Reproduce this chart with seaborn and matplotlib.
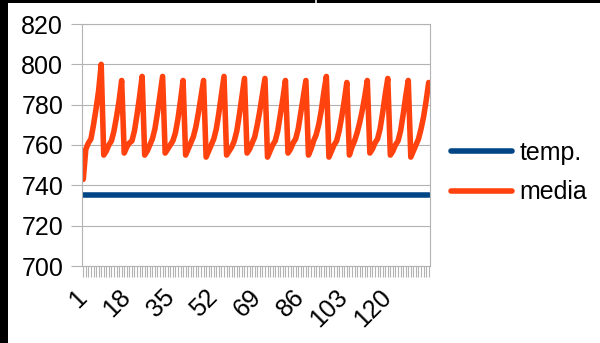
import matplotlib
matplotlib.use("Agg")
import matplotlib.pyplot as plt
from matplotlib.patches import Rectangle
import numpy as np
import pandas as pd
import seaborn as sns

# Sample index (1..136) and the two measured series
categories = list(range(1, 137))

temp = [
    735, 735, 735, 735, 735, 735, 735, 735,
    735, 735, 735, 735, 735, 735, 735, 735,
    735, 735, 735, 735, 735, 735, 735, 735,
    735, 735, 735, 735, 735, 735, 735, 735,
    735, 735, 735, 735, 735, 735, 735, 735,
    735, 735, 735, 735, 735, 735, 735, 735,
    735, 735, 735, 735, 735, 735, 735, 735,
    735, 735, 735, 735, 735, 735, 735, 735,
    735, 735, 735, 735, 735, 735, 735, 735,
    735, 735, 735, 735, 735, 735, 735, 735,
    735, 735, 735, 735, 735, 735, 735, 735,
    735, 735, 735, 735, 735, 735, 735, 735,
    735, 735, 735, 735, 735, 735, 735, 735,
    735, 735, 735, 735, 735, 735, 735, 735,
    735, 735, 735, 735, 735, 735, 735, 735,
    735, 735, 735, 735, 735, 735, 735, 735,
    735, 735, 735, 735, 735, 735, 735, 735,
]

media = [
    743, 758, 761, 763, 770, 778, 787, 800,
    755, 757, 760, 762, 767, 774, 782, 792,
    756, 759, 761, 762, 767, 775, 784, 794,
    755, 757, 760, 763, 768, 776, 785, 794,
    756, 758, 760, 762, 766, 773, 782, 792,
    755, 758, 761, 764, 769, 776, 784, 792,
    754, 757, 760, 763, 768, 776, 785, 794,
    755, 757, 759, 762, 767, 775, 784, 793,
    756, 758, 761, 764, 770, 777, 785, 793,
    754, 757, 760, 762, 767, 775, 783, 792,
    756, 758, 761, 763, 768, 776, 784, 792,
    755, 758, 762, 765, 770, 777, 786, 794,
    754, 757, 760, 762, 767, 774, 782, 791,
    755, 759, 762, 766, 771, 777, 784, 792,
    756, 758, 761, 763, 768, 776, 785, 793,
    755, 757, 760, 762, 767, 775, 784, 792,
    754, 757, 760, 763, 768, 774, 782, 791,
]

series_names = ["temp.", "media"]
series_colors = ["#004586", "#ff420e"]
tick_labels = ["1", "18", "35", "52", "69", "86", "103", "120"]
y_ticks = [700, 720, 740, 760, 780, 800, 820]

sns.set_style("white")
plt.rcParams["font.family"] = ["Liberation Sans", "DejaVu Sans"]
plt.rcParams["text.color"] = "black"

grid_gray = "#b3b3b3"

df = pd.DataFrame({
    "pos": list(range(len(categories))) * 2,
    "value": temp + media,
    "series": [series_names[0]] * len(temp) + [series_names[1]] * len(media),
})

fig = plt.figure(figsize=(6.0, 3.43), dpi=100)
ax = fig.add_axes([82 / 600, 1 - 266 / 343, (430 - 82) / 600, (266 - 24) / 343])

sns.lineplot(
    data=df, x="pos", y="value", hue="series",
    palette=dict(zip(series_names, series_colors)),
    hue_order=series_names, estimator=None, sort=False,
    linewidth=4.0, legend=False, ax=ax,
)
for ln in ax.get_lines():
    ln.set_solid_joinstyle("round")
    ln.set_solid_capstyle("round")

ax.set_xlim(-0.5, len(categories) - 0.5)
ax.set_ylim(700, 820)
ax.set_yticks(y_ticks)
ax.set_yticklabels([str(v) for v in y_ticks])

ax.set_xticks(np.arange(len(categories)))
ax.set_xticklabels([str(c) if str(c) in tick_labels else "" for c in categories])
for lbl in ax.get_xticklabels():
    lbl.set_rotation(45)
    lbl.set_ha("right")
    lbl.set_va("center")
    lbl.set_rotation_mode("anchor")

ax.set_xlabel("")
ax.set_ylabel("")

ax.tick_params(axis="x", length=8, width=0.8, color=grid_gray, pad=12,
               labelsize=18, labelcolor="black", bottom=True)
ax.tick_params(axis="y", length=8, width=0.8, color=grid_gray, pad=5.5,
               labelsize=18, labelcolor="black", left=True)

ax.set_axisbelow(True)
ax.yaxis.grid(True, color=grid_gray, linewidth=0.8)
ax.xaxis.grid(False)
for side in ["left", "right", "bottom", "top"]:
    ax.spines[side].set_visible(True)
    ax.spines[side].set_color(grid_gray)
    ax.spines[side].set_linewidth(0.8)

handles = ax.get_lines()[:2]
leg = fig.legend(
    handles, series_names, loc="center left",
    bbox_to_anchor=(451 / 600, 1 - 172.5 / 343),
    frameon=False, fontsize=18, handlelength=2.45, handletextpad=0.3,
    labelspacing=0.62, borderpad=0, borderaxespad=0,
)
for t in leg.get_texts():
    t.set_color("black")

# dark frame strips along the left and top edges
fig.patches.append(Rectangle((0, 0), 8 / 600, 1, transform=fig.transFigure,
                             facecolor="black", edgecolor="none", zorder=10))
fig.patches.append(Rectangle((0, 1 - 3 / 343), 1, 3 / 343, transform=fig.transFigure,
                             facecolor="black", edgecolor="none", zorder=10))
fig.patches.append(Rectangle((315 / 600, 1 - 3 / 343), 2 / 600, 3 / 343,
                             transform=fig.transFigure, facecolor="#c8c8c8",
                             edgecolor="none", zorder=11))

fig.savefig("out.png", dpi=100)
